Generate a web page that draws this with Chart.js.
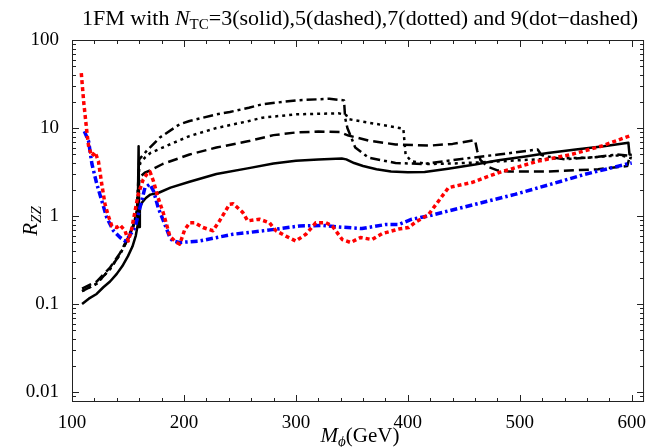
<!DOCTYPE html>
<html>
<head>
<meta charset="utf-8">
<script src="https://cdn.jsdelivr.net/npm/chart.js@4"></script>
<style>
  html, body { margin: 0; padding: 0; background: #fff; }
  #wrap { width: 648px; height: 447px; position: relative; }
</style>
</head>
<body>
<div id="wrap"><canvas id="rzz"></canvas></div>
<script>
// tick values
const xTicks = [100, 200, 300, 400, 500, 600];
const yTicks = [0.01, 0.1, 1, 10, 100];
const yTickLabels = ['0.01', '0.1', '1', '10', '100'];

// N_TC = 3 (solid)
const n3Mass  = [109, 115, 122, 128, 134, 140, 145, 150, 154, 157, 158.6, 159.5, 160, 160.6, 163, 166, 170, 178, 188, 205, 229, 258, 280, 300, 320, 341, 345, 352, 360, 372, 385, 400, 415, 436, 460, 481, 505, 525, 550, 575, 597, 598, 600];
const n3Ratio = [0.1, 0.115, 0.13, 0.155, 0.18, 0.22, 0.27, 0.35, 0.45, 0.6, 0.78, 6.2, 0.75, 1.25, 1.45, 1.6, 1.75, 1.85, 2.1, 2.45, 3.0, 3.5, 3.95, 4.25, 4.4, 4.5, 4.4, 4.0, 3.7, 3.4, 3.2, 3.15, 3.17, 3.45, 3.85, 4.3, 4.75, 5.2, 5.7, 6.2, 6.8, 5.0, 4.95];

// N_TC = 5 (dashed)
const n5Mass  = [109, 122, 134, 143, 150, 155, 158, 160, 161, 165, 170, 181, 205, 229, 258, 280, 300, 320, 339, 347, 365, 389, 419, 440, 460, 462, 465, 472, 480, 490, 525, 570, 596, 598, 600];
const n5Ratio = [0.15, 0.18, 0.26, 0.38, 0.57, 0.8, 1.14, 2.5, 2.8, 3.1, 3.3, 3.9, 5.0, 6.0, 7.1, 8.3, 8.9, 9.1, 9.0, 8.2, 7.2, 6.5, 6.3, 6.6, 7.3, 5.5, 4.3, 3.6, 3.3, 3.2, 3.2, 3.4, 3.7, 4.6, 4.6];

// N_TC = 7 (dotted)
const n7Mass  = [109, 122, 134, 143, 150, 155, 158, 160, 161, 165, 170, 181, 205, 229, 258, 270, 300, 338, 345, 347, 365, 389, 396, 398, 403, 418, 440, 470, 500, 530, 560, 590, 598, 600];
const n7Ratio = [0.14, 0.17, 0.25, 0.37, 0.55, 0.78, 1.1, 3.5, 4.0, 4.6, 5.2, 6.0, 8.1, 10, 12, 13.1, 14.3, 14.7, 14.0, 12.6, 11.5, 10.2, 9.8, 5.0, 4.2, 3.9, 3.95, 4.1, 4.3, 4.5, 4.6, 4.9, 4.6, 4.5];

// N_TC = 9 (dot-dashed)
const n9Mass  = [109, 122, 134, 143, 150, 155, 158, 160, 166.7, 178.5, 196, 205, 229, 241, 258, 270, 300, 330, 343, 344, 346, 350, 353, 365, 389, 413, 421, 451, 481, 516, 519, 522, 540, 570, 587, 600];
const n9Ratio = [0.14, 0.17, 0.25, 0.37, 0.55, 0.78, 1.1, 4.4, 5.5, 7.8, 11, 12, 14.3, 15.2, 17, 18.6, 20.6, 21.5, 20.6, 13, 10, 7.5, 6.0, 4.6, 4.0, 3.9, 4.0, 4.5, 5.0, 5.7, 5.0, 4.8, 4.4, 4.7, 5.0, 4.8];

// red dotted curve
const redMass  = [108.3, 110.5, 113.5, 115, 117.9, 120.7, 123.6, 126.6, 129.5, 132.5, 135.6, 140, 142.9, 147.4, 150.3, 153.3, 159.2, 163.6, 167, 169.6, 172.7, 177, 181.4, 187.4, 193.3, 196.3, 200.7, 205.2, 209.6, 217, 225.9, 231.8, 240.7, 244, 252.5, 257, 267.4, 276.3, 282.2, 291.1, 300, 308.9, 317.8, 326.7, 332.5, 341.4, 348.9, 357.8, 368, 377, 391.8, 400.7, 406.7, 418.5, 436.3, 457, 480.7, 516.3, 545.9, 572.5, 597.8];
const redRatio = [42, 19.5, 8.5, 6.0, 4.8, 5.3, 4.2, 2.3, 1.36, 1.0, 0.77, 0.74, 0.79, 0.68, 0.52, 0.71, 1.77, 2.6, 3.0, 3.2, 2.5, 1.6, 1.1, 0.59, 0.5, 0.48, 0.7, 0.84, 0.84, 0.74, 0.68, 0.88, 1.36, 1.38, 1.1, 0.88, 0.92, 0.84, 0.68, 0.59, 0.52, 0.62, 0.84, 0.84, 0.77, 0.54, 0.5, 0.57, 0.54, 0.63, 0.71, 0.74, 0.85, 1.04, 2.1, 2.4, 3.1, 4.2, 5.0, 6.2, 8.1];

// blue dot-dashed curve
const blueMass  = [111, 114.8, 117.8, 122.2, 126.7, 131, 137, 143, 147.4, 150.3, 156.3, 160.7, 165.2, 169.6, 173, 177, 183, 187.4, 190, 196, 214, 243.6, 258, 279, 303, 323.6, 338.5, 359, 380, 392, 403.6, 418.5, 436, 451, 495.6, 528, 557.8, 596, 600];
const blueRatio = [9.2, 7.1, 3.9, 2.3, 1.48, 0.96, 0.68, 0.57, 0.52, 0.57, 0.74, 1.24, 2.1, 2.3, 1.9, 1.24, 0.8, 0.57, 0.52, 0.5, 0.52, 0.62, 0.65, 0.7, 0.77, 0.78, 0.75, 0.72, 0.8, 0.8, 0.92, 1.0, 1.14, 1.27, 1.76, 2.3, 2.97, 3.9, 4.0];

const pts = (xs, ys) => xs.map((x, i) => ({ x, y: ys[i] }));

const serif = '"Liberation Serif", "DejaVu Serif", serif';

// line dataset helper
function series(label, xs, ys, color, width, dash) {
  return {
    label,
    data: pts(xs, ys),
    borderColor: color,
    borderWidth: width,
    borderDash: dash,
    borderJoinStyle: 'round',
    pointRadius: 0,
    fill: false,
    tension: 0
  };
}

// Mathematica-like frame with inward ticks on all sides
const frameTicks = {
  id: 'frameTicks',
  afterDatasetsDraw(chart) {
    const { ctx, chartArea: a, scales: { x, y } } = chart;
    ctx.save();
    ctx.strokeStyle = '#222';
    ctx.lineWidth = 1;
    ctx.strokeRect(a.left + 0.5, a.top + 0.5, a.right - a.left - 1, a.bottom - a.top - 1);
    ctx.beginPath();
    for (let v = 100; v <= 610; v += 20) {
      const px = Math.round(x.getPixelForValue(v)) + 0.5;
      const len = v % 100 === 0 ? 7 : 4;
      ctx.moveTo(px, a.bottom); ctx.lineTo(px, a.bottom - len);
      ctx.moveTo(px, a.top); ctx.lineTo(px, a.top + len);
    }
    for (let d = -3; d <= 1; d++) {
      for (let m = 1; m <= 9; m++) {
        const v = m * Math.pow(10, d);
        if (v < y.min || v > y.max) continue;
        const py = Math.round(y.getPixelForValue(v)) + 0.5;
        const len = m === 1 ? 7 : 4;
        ctx.moveTo(a.left, py); ctx.lineTo(a.left + len, py);
        ctx.moveTo(a.right, py); ctx.lineTo(a.right - len, py);
      }
    }
    ctx.stroke();
    ctx.restore();
  }
};

// title and axis titles with subscripts
function drawRuns(ctx, runs, x, y) {
  let cx = x;
  for (const r of runs) {
    ctx.font = r.font;
    ctx.fillText(r.t, cx, y + (r.dy || 0));
    cx += ctx.measureText(r.t).width;
  }
  return cx - x;
}
function runsWidth(ctx, runs) {
  let w = 0;
  for (const r of runs) { ctx.font = r.font; w += ctx.measureText(r.t).width; }
  return w;
}

const labels = {
  id: 'labels',
  afterDraw(chart) {
    const { ctx, chartArea: a } = chart;
    ctx.save();
    ctx.fillStyle = '#000';
    ctx.textBaseline = 'alphabetic';
    ctx.textAlign = 'left';

    const title = [
      { t: '1FM with ', font: `22px ${serif}` },
      { t: 'N', font: `italic 22px ${serif}` },
      { t: 'TC', font: `15px ${serif}`, dy: 4 },
      { t: '=3(solid),5(dashed),7(dotted) and 9(dot\u2212dashed)', font: `22px ${serif}` }
    ];
    const tw = runsWidth(ctx, title);
    drawRuns(ctx, title, 360 - tw / 2, 25);

    const xt = [
      { t: 'M', font: `italic 21px ${serif}` },
      { t: '\u03d5', font: `italic 15px ${serif}`, dy: 4 },
      { t: '(GeV)', font: `21px ${serif}` }
    ];
    const xw = runsWidth(ctx, xt);
    drawRuns(ctx, xt, 360 - xw / 2, 442);

    const yt = [
      { t: 'R', font: `italic 21px ${serif}` },
      { t: 'ZZ', font: `italic 15px ${serif}`, dy: 4 }
    ];
    const yw = runsWidth(ctx, yt);
    ctx.translate(37, 221);
    ctx.rotate(-Math.PI / 2);
    drawRuns(ctx, yt, -yw / 2, 0);
    ctx.restore();
  }
};

new Chart(document.getElementById('rzz').getContext('2d'), {
  type: 'line',
  data: {
    datasets: [
      series('observed', redMass, redRatio, '#ff0000', 3.5, [4, 3]),
      series('expected', blueMass, blueRatio, '#0000ff', 3.5, [7, 3, 2.5, 3]),
      series('N_TC=3', n3Mass, n3Ratio, '#000', 2.5, []),
      series('N_TC=5', n5Mass, n5Ratio, '#000', 2.5, [10, 5]),
      series('N_TC=7', n7Mass, n7Ratio, '#000', 2.5, [3, 4]),
      series('N_TC=9', n9Mass, n9Ratio, '#000', 2.5, [10, 4, 3, 4])
    ]
  },
  options: {
    responsive: true,
    maintainAspectRatio: false,
    animation: false,
    events: [],
    layout: { padding: { top: 40, right: 1, left: 0, bottom: 0 } },
    plugins: {
      legend: { display: false },
      title: { display: false },
      tooltip: { enabled: false }
    },
    scales: {
      x: {
        type: 'linear',
        min: 100,
        max: 611,
        grid: { display: false },
        border: { display: false },
        afterBuildTicks: s => { s.ticks = xTicks.map(v => ({ value: v })); },
        afterFit: s => { s.height = 45; },
        ticks: {
          padding: 2,
          maxRotation: 0,
          color: '#000',
          font: { family: serif, size: 19 },
          callback: v => String(v)
        }
      },
      y: {
        type: 'logarithmic',
        min: 0.0077,
        max: 100,
        grid: { display: false },
        border: { display: false },
        afterBuildTicks: s => { s.ticks = yTicks.map(v => ({ value: v })); },
        afterFit: s => { s.width = 72; },
        ticks: {
          padding: 5,
          color: '#000',
          font: { family: serif, size: 19 },
          callback: v => yTickLabels[yTicks.indexOf(v)] ?? ''
        }
      }
    }
  },
  plugins: [frameTicks, labels]
});
</script>
</body>
</html>
